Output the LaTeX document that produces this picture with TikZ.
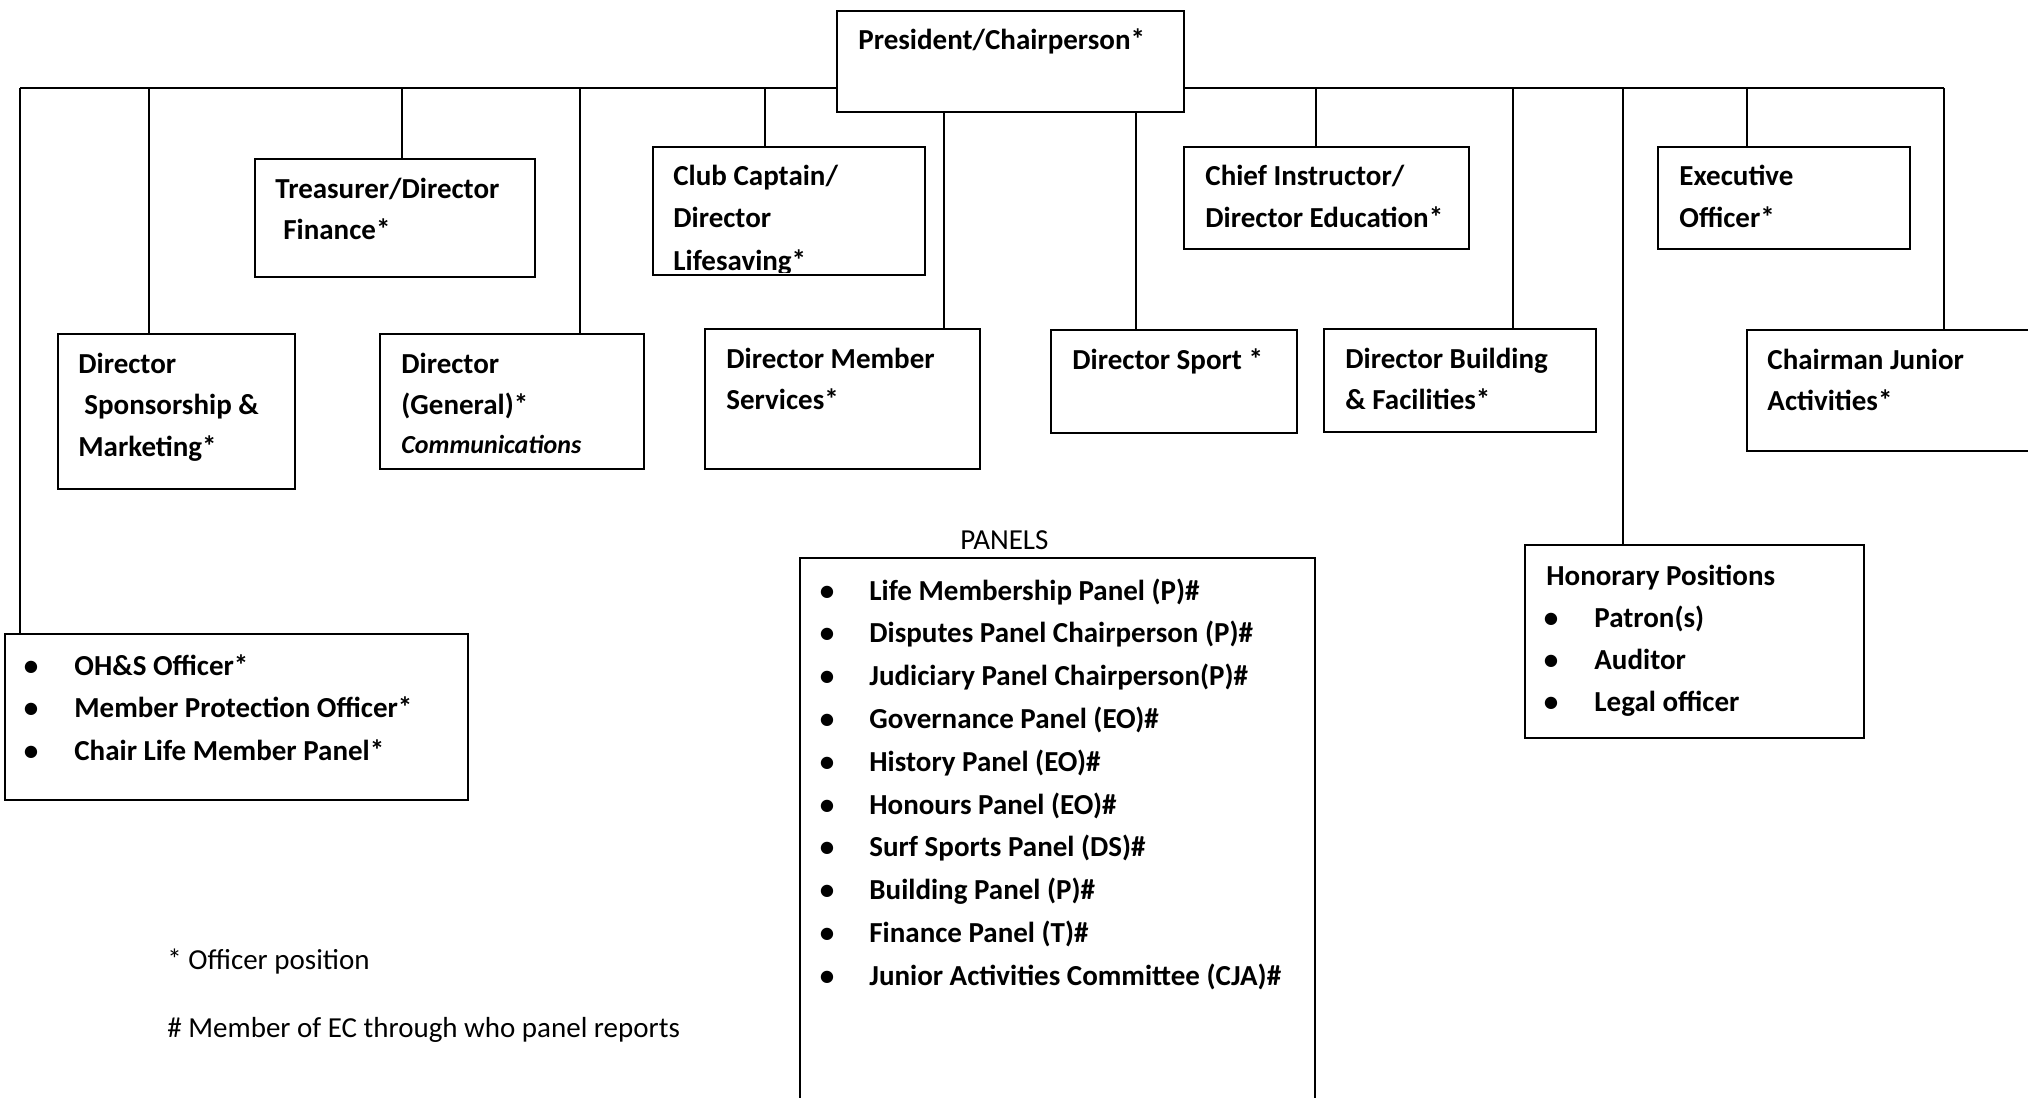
\documentclass[tikz,border=0pt]{standalone}
\usepackage{fontspec}
\setmainfont{Carlito}
\usetikzlibrary{fit}
\begin{document}
\begin{tikzpicture}[x=0.5pt,y=-0.5pt,
  box/.style={draw=black, line width=0.9pt, fill=white, inner sep=0pt},
  conn/.style={draw=black, line width=0.8pt},
  txt/.style={anchor=base west, inner sep=0pt, font=\fontsize{14.5pt}{18pt}\selectfont\bfseries},
  reg/.style={anchor=base west, inner sep=0pt, font=\fontsize{14.5pt}{18pt}\selectfont},
  itl/.style={anchor=base west, inner sep=0pt, font=\fontsize{13pt}{16pt}\selectfont\bfseries\itshape},
  bul/.style={anchor=base, inner sep=0pt, font=\fontsize{14.5pt}{18pt}\selectfont\bfseries}]
\useasboundingbox (0,0) rectangle (2028,1097);
\clip (0,0) rectangle (2028,1097);

% boxes
\node[box, fit={(837,11)(1184,112)}] (pres) {};
\node[box, fit={(255,159)(535,277)}] (treas) {};
\node[box, fit={(653,147)(925,275)}] (cc) {};
\node[box, fit={(1184,147)(1469,249)}] (ci) {};
\node[box, fit={(1658,147)(1910,249)}] (eo) {};
\node[box, fit={(58,334)(295,489)}] (dsm) {};
\node[box, fit={(380,334)(644,469)}] (dg) {};
\node[box, fit={(705,329)(980,469)}] (dms) {};
\node[box, fit={(1051,330)(1297,433)}] (dsp) {};
\node[box, fit={(1324,329)(1596,432)}] (dbf) {};
\node[box, fit={(1747,330)(2060,451)}] (cja) {};
\node[box, fit={(5,634)(468,800)}] (ohs) {};
\node[box, fit={(800,558)(1315,1120)}] (pan) {};
\node[box, fit={(1525,545)(1864,738)}] (hon) {};

% connectors
\coordinate (busL) at (20,88);
\coordinate (busR) at (1944,88);
\coordinate (v1) at (149,88);
\coordinate (v2) at (402,88);
\coordinate (v3) at (580,88);
\coordinate (v4) at (765,88);
\coordinate (v5) at (944,88);
\coordinate (v6) at (1136,88);
\coordinate (v7) at (1316,88);
\coordinate (v8) at (1513,88);
\coordinate (v9) at (1623,88);
\coordinate (v10) at (1747,88);
\draw[conn] (busL) -- (busL -| pres.west);
\draw[conn] (busR -| pres.east) -- (busR);
\draw[conn] (busL) -- (busL |- ohs.north);
\draw[conn] (v1) -- (v1 |- dsm.north);
\draw[conn] (v2) -- (v2 |- treas.north);
\draw[conn] (v3) -- (v3 |- dg.north);
\draw[conn] (v4) -- (v4 |- cc.north);
\draw[conn] (v5 |- pres.south) -- (v5 |- dms.north);
\draw[conn] (v6 |- pres.south) -- (v6 |- dsp.north);
\draw[conn] (v7) -- (v7 |- ci.north);
\draw[conn] (v8) -- (v8 |- dbf.north);
\draw[conn] (v9) -- (v9 |- hon.north);
\draw[conn] (v10) -- (v10 |- eo.north);
\draw[conn] (busR) -- (busR |- cja.north);

% texts
\node[txt] (t-pres) at (858,50) {President/Chairperson*};
\node[txt] (t-tr1) at (275,198) {Treasurer/Director};
\node[txt] (t-tr2) at (283,239) {Finance*};
\node[txt] (t-cc1) at (673,185) {Club Captain/};
\node[txt] (t-cc2) at (673,227) {Director};
\begin{scope}
  \clip (cc.north west) rectangle ([yshift=1.5pt]cc.south east);
  \node[txt] (t-cc3) at (673,270) {Lifesaving*};
\end{scope}
\node[txt] (t-ci1) at (1205,185) {Chief Instructor/};
\node[txt] (t-ci2) at (1205,227) {Director Education*};
\node[txt] (t-eo1) at (1679,185) {Executive};
\node[txt] (t-eo2) at (1679,227) {Officer*};
\node[txt] (t-dsm1) at (78,373) {Director};
\node[txt] (t-dsm2) at (84,414) {Sponsorship \&};
\node[txt] (t-dsm3) at (78,456) {Marketing*};
\node[txt] (t-dg1) at (401,373) {Director};
\node[txt] (t-dg2) at (401,414) {(General)*};
\node[itl] (t-dg3) at (401,453) {Communications};
\node[txt] (t-dms1) at (726,368) {Director Member};
\node[txt] (t-dms2) at (726,409) {Services*};
\node[txt] (t-dsp) at (1072,369) {Director Sport *};
\node[txt] (t-dbf1) at (1345,368) {Director Building};
\node[txt] (t-dbf2) at (1345,409) {\& Facilities*};
\node[txt] (t-cja1) at (1767,369) {Chairman Junior};
\node[txt] (t-cja2) at (1767,410) {Activities*};

% OH&S list
\foreach \t [count=\i] in {OH\&S Officer*, Member Protection Officer*, Chair Life Member Panel*}{
  \node[bul] (ob\i) at (31,{632.5+42.5*\i}) {•};
  \node[txt] (ot\i) at (74,{632.5+42.5*\i}) {\t};
}

% Panels
\node[reg] (t-panels) at (960,549) {PANELS};
\foreach \t [count=\i] in {Life Membership Panel (P)\#, Disputes Panel Chairperson (P)\#,
  Judiciary Panel Chairperson(P)\#, Governance Panel (EO)\#, History Panel (EO)\#,
  Honours Panel (EO)\#, Surf Sports Panel (DS)\#, Building Panel (P)\#,
  Finance Panel (T)\#, Junior Activities Committee (CJA)\#}{
  \node[bul] (pb\i) at (827,{557.2+42.8*\i}) {•};
  \node[txt] (pt\i) at (869,{557.2+42.8*\i}) {\t};
}

% Honorary
\node[txt] (t-hon) at (1546,585) {Honorary Positions};
\foreach \t [count=\i] in {Patron(s), Auditor, Legal officer}{
  \node[bul] (hb\i) at (1551,{585+42.3*\i}) {•};
  \node[txt] (ht\i) at (1594,{585+42.3*\i}) {\t};
}

% footnotes
\node[reg] (f1) at (167,969) {* Officer position};
\node[reg] (f2) at (167,1037) {\# Member of EC through who panel reports};
\end{tikzpicture}
\end{document}
